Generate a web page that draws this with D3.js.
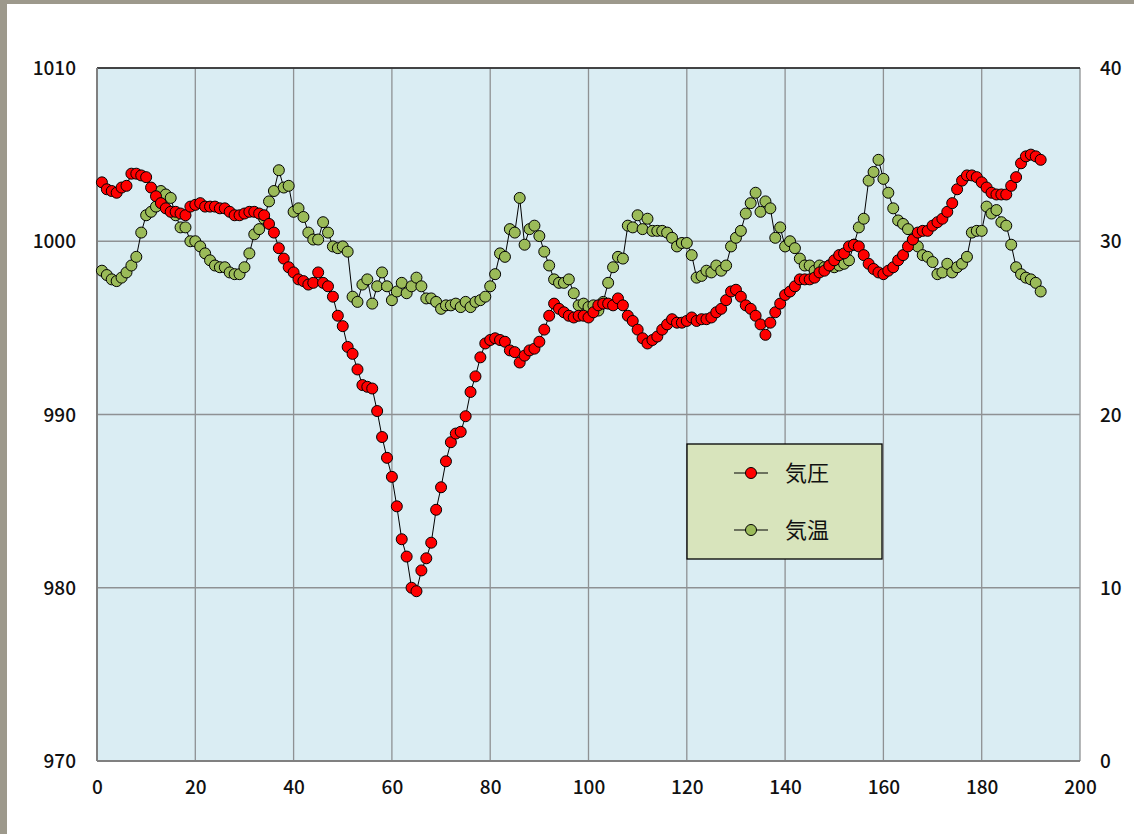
<!DOCTYPE html>
<html><head><meta charset="utf-8">
<script src="https://cdn.jsdelivr.net/npm/d3@7"></script>
<style>body{margin:0;background:#fff}svg{display:block}</style>
</head><body>
<svg id="c" width="1134" height="834"></svg>
<script>
const pressure = [1003.4,1003.0,1002.9,1002.8,1003.1,1003.2,1003.9,1003.9,1003.8,1003.7,
1003.1,1002.6,1002.2,1001.9,1001.7,1001.7,1001.6,1001.5,1002.0,1002.1,
1002.2,1002.0,1002.0,1002.0,1001.9,1001.9,1001.7,1001.5,1001.5,1001.6,
1001.7,1001.7,1001.6,1001.5,1001.0,1000.5,999.6,999.0,998.5,998.2,
997.8,997.7,997.5,997.6,998.2,997.6,997.4,996.8,995.7,995.1,
993.9,993.5,992.6,991.7,991.6,991.5,990.2,988.7,987.5,986.4,
984.7,982.8,981.8,980.0,979.8,981.0,981.7,982.6,984.5,985.8,
987.3,988.4,988.9,989.0,989.9,991.3,992.2,993.3,994.1,994.3,
994.4,994.3,994.2,993.7,993.6,993.0,993.4,993.7,993.8,994.2,
994.9,995.7,996.4,996.1,995.9,995.7,995.6,995.7,995.7,995.6,
995.9,996.3,996.4,996.4,996.3,996.7,996.3,995.7,995.4,994.9,
994.4,994.1,994.3,994.5,994.9,995.2,995.5,995.3,995.3,995.4,
995.6,995.4,995.5,995.5,995.6,995.9,996.1,996.6,997.1,997.2,
996.8,996.3,996.1,995.7,995.2,994.6,995.3,995.9,996.4,996.9,
997.1,997.4,997.8,997.8,997.8,997.9,998.2,998.3,998.6,998.9,
999.2,999.3,999.7,999.8,999.7,999.2,998.7,998.4,998.2,998.1,
998.3,998.5,998.9,999.2,999.7,1000.1,1000.5,1000.6,1000.6,1000.9,
1001.1,1001.3,1001.7,1002.2,1003.0,1003.5,1003.8,1003.8,1003.7,1003.4,
1003.1,1002.8,1002.7,1002.7,1002.7,1003.2,1003.7,1004.5,1004.9,1005.0,
1004.9,1004.7];
const temperature = [28.3,28.05,27.8,27.7,27.9,28.2,28.6,29.1,30.5,31.5,
31.7,32.0,32.9,32.7,32.5,31.5,30.8,30.8,30.0,30.0,
29.7,29.3,28.9,28.6,28.5,28.5,28.2,28.1,28.1,28.5,
29.3,30.4,30.7,31.3,32.3,32.9,34.1,33.1,33.2,31.7,
31.9,31.4,30.5,30.1,30.1,31.1,30.5,29.7,29.6,29.7,
29.4,26.8,26.5,27.5,27.8,26.4,27.4,28.2,27.4,26.6,
27.1,27.6,27.0,27.4,27.9,27.4,26.7,26.7,26.5,26.1,
26.3,26.3,26.4,26.2,26.5,26.2,26.5,26.6,26.8,27.4,
28.1,29.3,29.1,30.7,30.5,32.5,29.8,30.7,30.9,30.3,
29.4,28.6,27.8,27.6,27.6,27.8,27.0,26.3,26.4,26.2,
26.3,26.0,26.5,27.6,28.5,29.1,29.0,30.9,30.8,31.5,
30.7,31.3,30.6,30.6,30.6,30.5,30.2,29.7,29.9,29.9,
29.2,27.9,28.0,28.3,28.2,28.6,28.3,28.6,29.7,30.2,
30.6,31.6,32.2,32.8,31.7,32.3,31.9,30.2,30.8,29.7,
30.0,29.6,29.0,28.6,28.6,28.3,28.6,28.5,28.6,28.5,
28.6,28.7,28.9,29.8,30.8,31.3,33.5,34.0,34.7,33.6,
32.8,31.9,31.2,31.0,30.7,30.1,29.7,29.2,29.1,28.8,
28.1,28.2,28.7,28.2,28.5,28.7,29.1,30.5,30.6,30.6,
32.0,31.6,31.8,31.1,30.9,29.8,28.5,28.1,27.9,27.8,
27.6,27.1];
const xTicks = [0,20,40,60,80,100,120,140,160,180,200];
const leftTicks = [970,980,990,1000,1010];
const rightTicks = [0,10,20,30,40];
const seriesNames = ["気圧","気温"];

const svg = d3.select("#c");
const L=97, R=1080, T=68, B=761;
const font = "'Noto Sans CJK JP','Noto Sans',sans-serif";

// outer frame
svg.append("rect").attr("x",0).attr("y",0).attr("width",1134).attr("height",834).attr("fill","#fff");
svg.append("rect").attr("x",0).attr("y",0).attr("width",1134).attr("height",4).attr("fill","#9d998c");
svg.append("rect").attr("x",0).attr("y",0).attr("width",7).attr("height",834).attr("fill","#9d998c");

const x = d3.scaleLinear().domain([0,200]).range([L,R]);
const yL = d3.scaleLinear().domain([970,1010]).range([B,T]);
const yR = d3.scaleLinear().domain([0,40]).range([B,T]);

svg.append("rect").attr("x",L).attr("y",T).attr("width",R-L).attr("height",B-T).attr("fill","#daedf3");

const grid = svg.append("g").attr("stroke","#8e9193").attr("stroke-width",1.3);
xTicks.forEach(t=>grid.append("line").attr("x1",x(t)).attr("x2",x(t)).attr("y1",T).attr("y2",B));
leftTicks.forEach(t=>grid.append("line").attr("x1",L).attr("x2",R).attr("y1",yL(t)).attr("y2",yL(t)));
svg.append("line").attr("x1",L).attr("x2",R).attr("y1",T).attr("y2",T).attr("stroke","#222").attr("stroke-width",1.3);
svg.append("line").attr("x1",L).attr("x2",L).attr("y1",T).attr("y2",B).attr("stroke","#808080").attr("stroke-width",2);
svg.append("line").attr("x1",L).attr("x2",R).attr("y1",B).attr("y2",B).attr("stroke","#808080").attr("stroke-width",2);

// axes
const fmt = d3.format("d");
const ax = d3.axisBottom(x).tickValues(xTicks).tickFormat(fmt).tickSize(0).tickPadding(20);
const gx = svg.append("g").attr("transform",`translate(0,${B})`).call(ax);
const gl = svg.append("g").attr("transform",`translate(${L},0)`).call(d3.axisLeft(yL).tickValues(leftTicks).tickFormat(fmt).tickSize(0).tickPadding(21));
const gr = svg.append("g").attr("transform",`translate(${R},0)`).call(d3.axisRight(yR).tickValues(rightTicks).tickFormat(fmt).tickSize(0).tickPadding(20));
[gx,gl,gr].forEach(g=>{g.select(".domain").remove();
  g.selectAll("text").attr("font-family",font).attr("font-size",19).attr("font-weight",500).attr("fill","#111");});
gl.selectAll("text").attr("dy","0.35em");
gr.selectAll("text").attr("dy","0.35em");

const lineP = d3.line().x((d,i)=>x(i+1)).y(d=>yL(d));
const lineT = d3.line().x((d,i)=>x(i+1)).y(d=>yR(d));
svg.append("path").datum(temperature).attr("d",lineT).attr("fill","none").attr("stroke","#000").attr("stroke-width",1);
svg.append("g").selectAll("circle").data(temperature).join("circle")
  .attr("cx",(d,i)=>x(i+1)).attr("cy",d=>yR(d)).attr("r",5.5)
  .attr("fill","#9bbb59").attr("stroke","#000").attr("stroke-width",1);
svg.append("path").datum(pressure).attr("d",lineP).attr("fill","none").attr("stroke","#000").attr("stroke-width",1);
svg.append("g").selectAll("circle").data(pressure).join("circle")
  .attr("cx",(d,i)=>x(i+1)).attr("cy",d=>yL(d)).attr("r",5.5)
  .attr("fill","#ff0000").attr("stroke","#000").attr("stroke-width",1);

// legend
const lg = svg.append("g");
lg.append("rect").attr("x",687).attr("y",444).attr("width",195).attr("height",115)
  .attr("fill","#d8e4bc").attr("stroke","#000").attr("stroke-width",1.3);
const cols = ["#ff0000","#9bbb59"];
[473,530].forEach((yy,k)=>{
  lg.append("line").attr("x1",734).attr("x2",768).attr("y1",yy).attr("y2",yy).attr("stroke","#000").attr("stroke-width",1);
  lg.append("circle").attr("cx",751).attr("cy",yy).attr("r",5.5).attr("fill",cols[k]).attr("stroke","#000");
  lg.append("text").attr("x",785).attr("y",yy).attr("dy","0.35em").attr("font-family",font)
    .attr("font-size",22).attr("fill","#111").text(seriesNames[k]);
});
</script>
</body></html>
